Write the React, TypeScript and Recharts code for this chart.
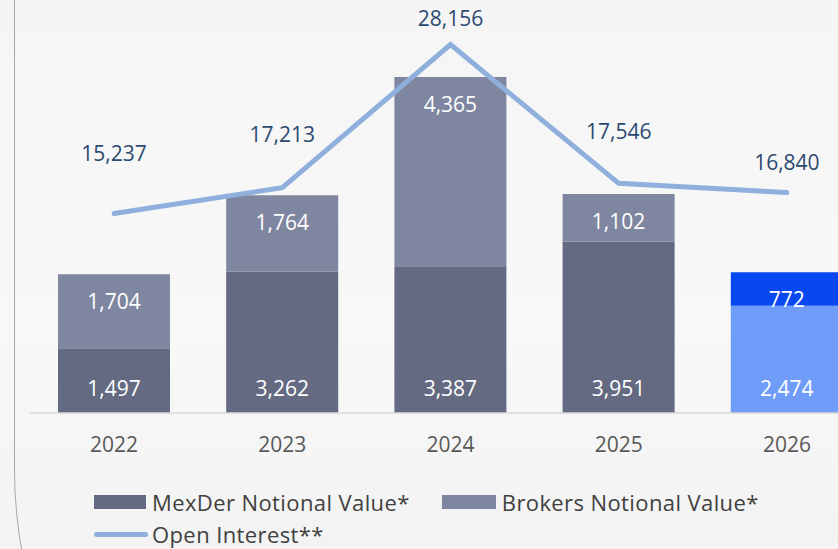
import React from "react";
import {
  ComposedChart,
  Bar,
  Line,
  XAxis,
  YAxis,
  Cell,
  LabelList,
} from "recharts";

const years = ["2022", "2023", "2024", "2025", "2026"];
const mexderValues = [1497, 3262, 3387, 3951, 2474];
const brokersValues = [1704, 1764, 4365, 1102, 772];
const openInterest = [15237, 17213, 28156, 17546, 16840];

// how far above each point the open interest label sits (px)
const lineLabelLift = [61, 54, 27, 52, 31];

const data = years.map((year, i) => ({
  year,
  mexder: mexderValues[i],
  brokers: brokersValues[i],
  openInterest: openInterest[i],
}));

const FONT = "'Open Sans', sans-serif";
const fmt = (v: any) => Number(v).toLocaleString("en-US");

const LineLabel = (props: any) => {
  const { x, y, value, index } = props;
  return (
    <text
      x={x}
      y={y - lineLabelLift[index]}
      textAnchor="middle"
      dominantBaseline="central"
      fill="#2c4a70"
      fontSize={21}
      fontFamily={FONT}
    >
      {fmt(value)}
    </text>
  );
};

export default function App() {
  return (
    <div
      style={{
        position: "fixed",
        left: 0,
        top: 0,
        width: 838,
        height: 549,
        overflow: "hidden",
        background: "linear-gradient(180deg, #f5f5f5 0%, #f8f8f8 60%, #f3f3f3 100%)",
        fontFamily: FONT,
      }}
    >
      {/* panel border */}
      <div
        style={{
          position: "absolute",
          left: 14,
          top: -40,
          width: 1400,
          height: 960,
          border: "1px solid #a8a8a8",
          borderBottomLeftRadius: 450,
          boxSizing: "border-box",
        }}
      />
      <div style={{ position: "absolute", left: 0, top: 0 }}>
        <ComposedChart
          width={880}
          height={549}
          data={data}
          margin={{ top: 23, right: 9, bottom: 0, left: 30 }}
          barSize={112}
        >
          <XAxis
            dataKey="year"
            height={136}
            axisLine={{ stroke: "#d9d9d9", strokeWidth: 1.5 }}
            tickLine={false}
            tickMargin={18}
            tick={{ fill: "#595959", fontSize: 21, fontFamily: FONT }}
          />
          <YAxis yAxisId="bar" hide domain={[0, 9000]} />
          <YAxis yAxisId="line" hide orientation="right" domain={[0, 29800]} />
          <Bar
            yAxisId="bar"
            dataKey="mexder"
            stackId="a"
            fill="#646a82"
            isAnimationActive={false}
          >
            {data.map((d, i) => (
              <Cell key={d.year} fill={i === 4 ? "#6f9cf8" : "#646a82"} />
            ))}
            <LabelList
              dataKey="mexder"
              position="insideBottom"
              offset={17}
              fill="#ffffff"
              fontSize={21}
              fontFamily={FONT}
              formatter={fmt}
            />
          </Bar>
          <Bar
            yAxisId="bar"
            dataKey="brokers"
            stackId="a"
            fill="#7f869f"
            isAnimationActive={false}
          >
            {data.map((d, i) => (
              <Cell key={d.year} fill={i === 4 ? "#0748f0" : "#7f869f"} />
            ))}
            <LabelList
              dataKey="brokers"
              position="insideTop"
              offset={20}
              fill="#ffffff"
              fontSize={21}
              fontFamily={FONT}
              formatter={fmt}
            />
          </Bar>
          <Line
            yAxisId="line"
            type="linear"
            dataKey="openInterest"
            stroke="#8fb0dc"
            strokeWidth={5}
            strokeLinecap="round"
            dot={false}
            activeDot={false}
            isAnimationActive={false}
          >
            <LabelList dataKey="openInterest" content={<LineLabel />} />
          </Line>
        </ComposedChart>
      </div>

      {/* legend */}
      <div
        style={{
          position: "absolute",
          left: 94,
          top: 488,
          fontSize: 22,
          letterSpacing: 0.4,
          color: "#404040",
          lineHeight: "28px",
        }}
      >
        <div style={{ display: "flex", alignItems: "center" }}>
          <span style={{ width: 52, height: 14, background: "#646a82", marginRight: 6 }} />
          <span>MexDer Notional Value*</span>
          <span
            style={{ width: 54, height: 14, background: "#7f869f", marginLeft: 32, marginRight: 6 }}
          />
          <span>Brokers Notional Value*</span>
        </div>
        <div style={{ display: "flex", alignItems: "center", marginTop: 4 }}>
          <span
            style={{ width: 54, height: 5, borderRadius: 3, background: "#8fb0dc", marginRight: 4 }}
          />
          <span>Open Interest**</span>
        </div>
      </div>
    </div>
  );
}
